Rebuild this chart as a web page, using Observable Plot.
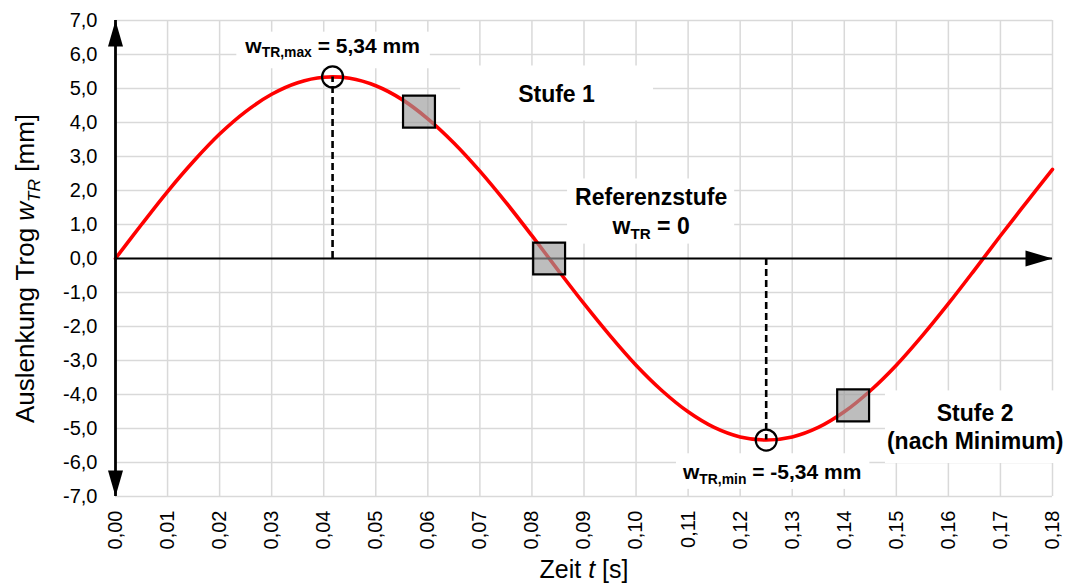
<!DOCTYPE html>
<html>
<head>
<meta charset="utf-8">
<script src="https://cdn.jsdelivr.net/npm/d3@7"></script>
<script src="https://cdn.jsdelivr.net/npm/@observablehq/plot@0.6"></script>
<style>
  html, body { margin: 0; padding: 0; background: #fff; }
  svg { display: block; }
</style>
</head>
<body>
<script>
// Trough displacement over time: time in s, displacement in mm
const timeS = [0, 0.005, 0.010, 0.015, 0.020, 0.025, 0.030, 0.035, 0.040, 0.045,
               0.050, 0.055, 0.060, 0.065, 0.070, 0.075, 0.080, 0.085, 0.090, 0.095,
               0.100, 0.105, 0.110, 0.115, 0.120, 0.125, 0.130, 0.135, 0.140, 0.145,
               0.150, 0.155, 0.160, 0.165, 0.170, 0.175, 0.180];
const wTRmm = [0.00, 1.00, 1.97, 2.86, 3.66, 4.32, 4.83, 5.17, 5.33, 5.30,
               5.08, 4.68, 4.11, 3.40, 2.57, 1.65, 0.67, -0.34, -1.33, -2.27,
               -3.14, -3.89, -4.51, -4.97, -5.25, -5.34, -5.25, -4.97, -4.51, -3.89,
               -3.14, -2.27, -1.33, -0.34, 0.67, 1.65, 2.62];

// Extremes of the displacement
const extremaKind = ["max", "min"];
const extremaT = [0.0417, 0.125];
const extremaW = [5.34, -5.34];

// Load steps marked on the curve
const stepT = [0.0583, 0.0833, 0.1417];
const stepW = [4.32, 0, -4.32];
const stepLabel = ["Stufe 1", "Referenzstufe\nwTR = 0", "Stufe 2\n(nach Minimum)"];

// Axes
const xTicks = [0, 0.01, 0.02, 0.03, 0.04, 0.05, 0.06, 0.07, 0.08, 0.09,
                0.10, 0.11, 0.12, 0.13, 0.14, 0.15, 0.16, 0.17, 0.18];
const yTicks = [-7, -6, -5, -4, -3, -2, -1, 0, 1, 2, 3, 4, 5, 6, 7];
const xTitle = "Zeit t [s]";
const yTitle = "Auslenkung Trog wTR [mm]";

const comma = (v, n) => v.toFixed(n).replace(".", ",");

const curve = timeS.map((t, i) => ({t, w: wTRmm[i]}));
const extrema = extremaT.map((t, i) => ({
  t, w: extremaW[i],
  label: `wTR,${extremaKind[i]} = ${comma(extremaW[i], 2)} mm`
}));
const steps = stepT.map((t, i) => ({t, w: stepW[i], label: stepLabel[i]}));
const xMin = xTicks[0], xMax = xTicks[xTicks.length - 1];
const yMin = yTicks[0], yMax = yTicks[yTicks.length - 1];

// Filled, elongated arrowheads with the tip at the anchor point
const arrowUp = {draw(c) { c.moveTo(0, 0); c.lineTo(7.5, 26); c.lineTo(-7.5, 26); c.closePath(); }};
const arrowDown = {draw(c) { c.moveTo(0, 0); c.lineTo(7.5, -26); c.lineTo(-7.5, -26); c.closePath(); }};
const arrowRight = {draw(c) { c.moveTo(0, 0); c.lineTo(-27, 8); c.lineTo(-27, -8); c.closePath(); }};

const bold = {fontSize: 23, fontWeight: "bold", fill: "black", ariaDescription: "annotation"};
const boldSmall = {...bold, fontSize: 21};

const chart = Plot.plot({
  width: 1070,
  height: 585,
  marginLeft: 115,
  marginRight: 18,
  marginTop: 20,
  marginBottom: 89,
  style: {fontFamily: "'Liberation Sans', Arial, sans-serif", fontSize: "20px", color: "black", background: "white"},
  x: {type: "linear", domain: [xMin, xMax]},
  y: {type: "linear", domain: [yMin, yMax]},
  marks: [
    Plot.gridX(xTicks, {stroke: "#d9d9d9", strokeOpacity: 1, strokeWidth: 1.5}),
    Plot.gridY(yTicks, {stroke: "#d9d9d9", strokeOpacity: 1, strokeWidth: 1.5}),
    Plot.axisX({ticks: xTicks, tickFormat: d => comma(d, 2), tickRotate: -90, tickSize: 0, tickPadding: 14, fontSize: 20, label: null}),
    Plot.axisY({ticks: yTicks, tickFormat: d => comma(d, 1), tickSize: 0, tickPadding: 18, fontSize: 20, label: null}),
    Plot.text([xTitle], {frameAnchor: "bottom", dy: 81, fontSize: 25, fill: "black"}),
    Plot.text([yTitle], {frameAnchor: "left", textAnchor: "middle", rotate: -90, dx: -90, dy: 10, fontSize: 26, fill: "black"}),
    // the displacement curve
    Plot.line(curve, {x: "t", y: "w", stroke: "#ff0000", strokeWidth: 3.6, curve: "catmull-rom"}),
    // drop lines from the extremes to the time axis
    Plot.ruleX(extrema, {x: "t", y1: 0, y2: "w", stroke: "black", strokeWidth: 2.6, strokeDasharray: "7,4"}),
    // axes through the origin with arrowheads
    Plot.ruleY([0], {x1: xMin, x2: xMax, stroke: "black", strokeWidth: 2.2}),
    Plot.ruleX([0], {y1: yMin, y2: yMax, stroke: "black", strokeWidth: 2.8}),
    Plot.dot([{t: 0, w: yMax}], {x: "t", y: "w", symbol: arrowUp, fill: "black", stroke: "none"}),
    Plot.dot([{t: 0, w: yMin}], {x: "t", y: "w", symbol: arrowDown, fill: "black", stroke: "none"}),
    Plot.dot([{t: xMax, w: 0}], {x: "t", y: "w", symbol: arrowRight, fill: "black", stroke: "none"}),
    // step markers and extreme markers
    Plot.dot(steps, {x: "t", y: "w", symbol: "square", r: 18, fill: "#9a9a9a", fillOpacity: 0.65, stroke: "black", strokeWidth: 2.2}),
    Plot.dot(extrema, {x: "t", y: "w", r: 10.5, fill: "none", stroke: "black", strokeWidth: 2.2}),
    // annotations
    Plot.text([extrema[0]], {x: "t", y: "w", text: "label", dy: -31, ...boldSmall}),
    Plot.text([extrema[1]], {x: "t", y: "w", text: "label", dx: 6, dy: 32.5, ...boldSmall}),
    Plot.text([steps[0]], {x: "t", y: "w", text: "label", dx: 137.5, dy: -16.5, ...bold}),
    Plot.text([steps[1]], {x: "t", y: "w", text: "label", dx: 102, dy: -48, lineHeight: 1.22, ...bold}),
    Plot.text([steps[2]], {x: "t", y: "w", text: "label", dx: 122, dy: 21, lineHeight: 1.2, ...bold})
  ]
});

document.body.appendChild(chart);

const NS = "http://www.w3.org/2000/svg";
function addSpan(parent, txt) {
  const s = document.createElementNS(NS, "tspan");
  s.textContent = txt;
  parent.appendChild(s);
  return s;
}

// Turn "wTR…" into w with a subscript TR…
function subscript(node, italic) {
  const m = /^(.*?)w(TR\S*)(.*)$/.exec(node.textContent);
  if (!m) return;
  const fs = parseFloat(getComputedStyle(node).fontSize) || 20;
  const shift = fs * 0.22;
  while (node.firstChild) node.removeChild(node.firstChild);
  if (m[1]) addSpan(node, m[1]);
  const w = addSpan(node, "w");
  const sub = addSpan(node, m[2]);
  sub.setAttribute("font-size", (fs * 0.66).toFixed(1));
  sub.setAttribute("dy", shift.toFixed(1));
  if (italic) { w.setAttribute("font-style", "italic"); sub.setAttribute("font-style", "italic"); }
  const rest = addSpan(node, m[3]);
  rest.setAttribute("dy", (-shift).toFixed(1));
}

chart.querySelectorAll("text").forEach(t => {
  const lines = t.querySelectorAll("tspan");
  if (lines.length) lines.forEach(l => subscript(l, false));
  else if (t.textContent === yTitle) subscript(t, true);
  else if (t.textContent === xTitle) {
    t.textContent = "";
    addSpan(t, "Zeit ");
    addSpan(t, "t").setAttribute("font-style", "italic");
    addSpan(t, " [s]");
  } else subscript(t, false);
});

// White label boxes behind the annotations (drawn over the grid only)
const pads = [[8, 10, 2, 8], [6, 8, 7, 2], [58, 58, 16, 13], [8, 7, 6, 2], [2, 6, 10, 9]];
const svgBox = chart.getBoundingClientRect();
const boxes = document.createElementNS(NS, "g");
boxes.setAttribute("aria-label", "label boxes");
chart.querySelectorAll('g[aria-description="annotation"] text').forEach((t, i) => {
  const b = t.getBoundingClientRect();
  const [l, r, tp, bt] = pads[i] || [6, 6, 6, 6];
  const rect = document.createElementNS(NS, "rect");
  rect.setAttribute("x", b.left - svgBox.left - l);
  rect.setAttribute("y", b.top - svgBox.top - tp);
  rect.setAttribute("width", b.width + l + r);
  rect.setAttribute("height", b.height + tp + bt);
  rect.setAttribute("fill", "white");
  boxes.appendChild(rect);
});
const lineGroup = chart.querySelector('g[aria-label="line"]');
chart.insertBefore(boxes, lineGroup);
</script>
</body>
</html>
